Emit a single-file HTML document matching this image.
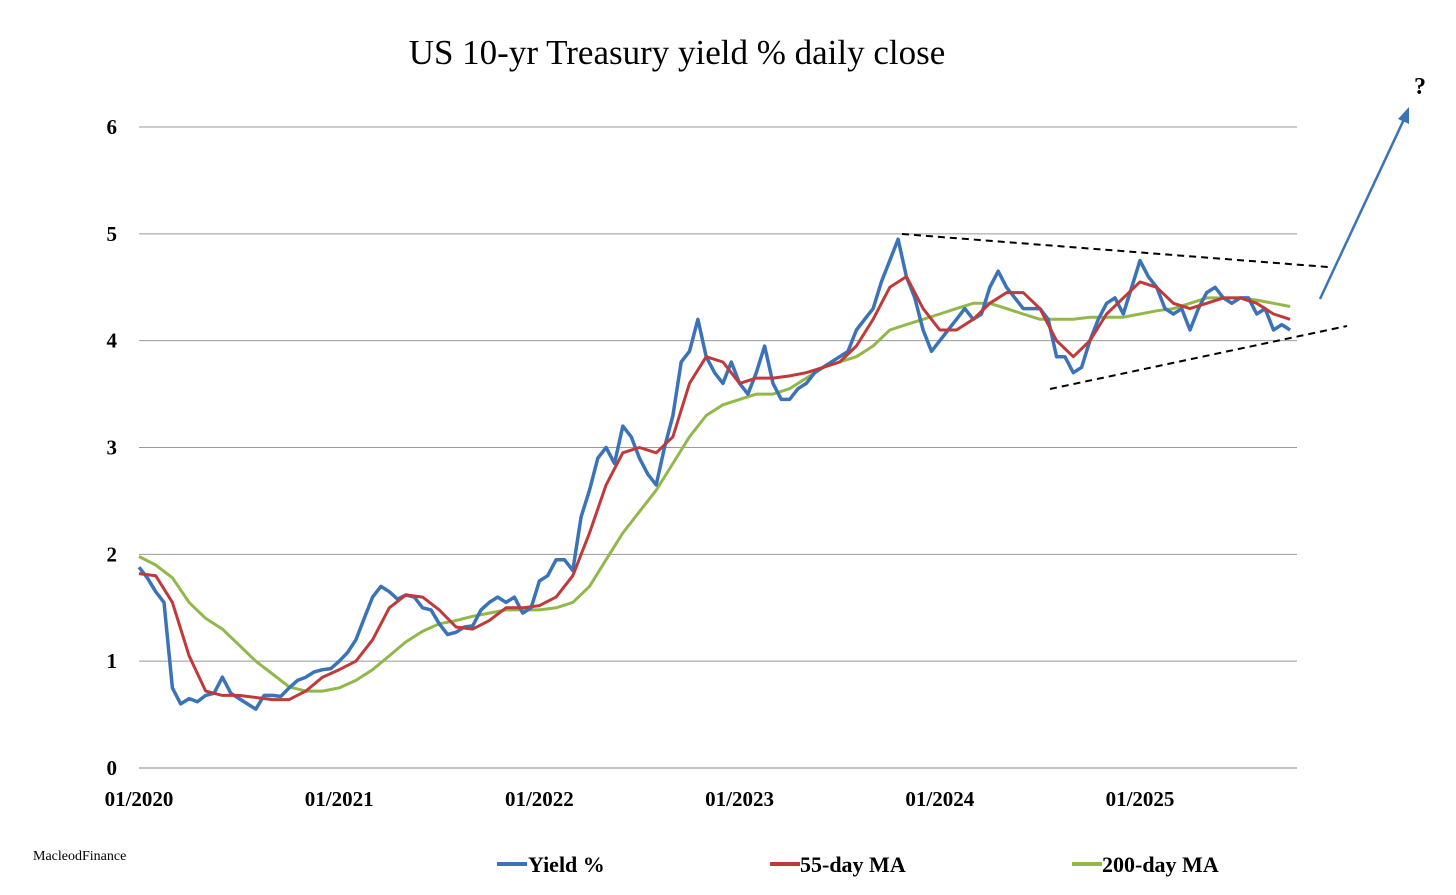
<!DOCTYPE html>
<html><head><meta charset="utf-8"><style>
html,body{margin:0;padding:0;background:#fff;}
svg{display:block;font-family:"Liberation Serif",serif;}
</style></head><body>
<svg id="chart" width="1456" height="895" viewBox="0 0 1456 895" xmlns="http://www.w3.org/2000/svg">
<text x="677" y="64" font-size="35" text-anchor="middle" fill="#000">US 10-yr Treasury yield % daily close</text>
<g id="grid"></g><g id="series"></g>
<line x1="902" y1="234" x2="1328" y2="267" stroke="#000" stroke-width="2" stroke-dasharray="7,5"/>
<line x1="1050" y1="389" x2="1347" y2="326" stroke="#000" stroke-width="2" stroke-dasharray="7,5"/>
<line x1="1320" y1="299" x2="1406" y2="115" stroke="#3b73b9" stroke-width="2.5"/>
<polygon points="1409,107 1409,124 1398,119" fill="#3b73b9"/>
<text x="1420" y="94" font-size="24" font-weight="bold" text-anchor="middle">?</text>
<text x="33" y="860" font-size="14">MacleodFinance</text>
<g>
<line x1="497" y1="864" x2="527" y2="864" stroke="#3b73b9" stroke-width="4"/>
<text x="528" y="872" font-size="22" font-weight="bold">Yield %</text>
<line x1="770" y1="864" x2="800" y2="864" stroke="#c0393b" stroke-width="4"/>
<text x="800" y="872" font-size="22" font-weight="bold">55-day MA</text>
<line x1="1072" y1="864" x2="1102" y2="864" stroke="#92b84a" stroke-width="4"/>
<text x="1102" y="872" font-size="22" font-weight="bold">200-day MA</text>
</g>
</svg>
<script>
const yTicks=[0,1,2,3,4,5,6];
const xTickLabels=["01/2020","01/2021","01/2022","01/2023","01/2024","01/2025"];
const xTickYears=[2020,2021,2022,2023,2024,2025];
// semi-monthly yield, starting Jan 2020
const yieldVals=[1.88,1.78,1.65,1.55,0.75,0.6,0.65,0.62,0.68,0.70,0.85,0.70,0.65,0.60,0.55,0.68,0.68,0.67,0.75,0.82,0.85,0.90,0.92,0.93,
1.0,1.08,1.2,1.4,1.6,1.7,1.65,1.58,1.62,1.60,1.50,1.48,1.35,1.25,1.27,1.32,1.33,1.48,1.55,1.60,1.55,1.60,1.45,1.50,
1.75,1.80,1.95,1.95,1.85,2.35,2.6,2.9,3.0,2.85,3.2,3.1,2.9,2.75,2.65,3.0,3.3,3.8,3.9,4.2,3.85,3.7,3.6,3.8,
3.6,3.5,3.7,3.95,3.6,3.45,3.45,3.55,3.6,3.7,3.75,3.8,3.85,3.9,4.1,4.2,4.3,4.55,4.75,4.95,4.6,4.4,4.1,3.9,
4.0,4.1,4.2,4.3,4.2,4.25,4.5,4.65,4.5,4.4,4.3,4.3,4.3,4.2,3.85,3.85,3.7,3.75,4.0,4.2,4.35,4.4,4.25,4.5,
4.75,4.6,4.5,4.3,4.25,4.3,4.1,4.3,4.45,4.5,4.4,4.35,4.4,4.4,4.25,4.3,4.1,4.15,4.1];
// monthly moving averages, starting Jan 2020
const ma55=[1.82,1.80,1.55,1.05,0.72,0.68,0.68,0.66,0.64,0.64,0.72,0.85,
0.92,1.0,1.2,1.5,1.62,1.6,1.48,1.32,1.30,1.38,1.50,1.50,
1.52,1.60,1.8,2.2,2.65,2.95,3.0,2.95,3.1,3.6,3.85,3.8,
3.6,3.65,3.65,3.67,3.7,3.75,3.8,3.95,4.2,4.5,4.6,4.3,
4.1,4.1,4.2,4.35,4.45,4.45,4.3,4.0,3.85,4.0,4.25,4.4,
4.55,4.5,4.35,4.3,4.35,4.4,4.4,4.35,4.25,4.2];
const ma200=[1.98,1.9,1.78,1.55,1.4,1.3,1.15,1.0,0.88,0.76,0.72,0.72,
0.75,0.82,0.92,1.05,1.18,1.28,1.35,1.38,1.42,1.45,1.48,1.48,
1.48,1.50,1.55,1.7,1.95,2.2,2.4,2.6,2.85,3.1,3.3,3.4,
3.45,3.5,3.5,3.55,3.65,3.75,3.8,3.85,3.95,4.1,4.15,4.2,
4.25,4.3,4.35,4.35,4.3,4.25,4.2,4.2,4.2,4.22,4.22,4.22,
4.25,4.28,4.3,4.35,4.4,4.4,4.4,4.38,4.35,4.32];

const NS="http://www.w3.org/2000/svg";
const x0=139,x1=1297,pxPerYear=200.2;
const yScale=v=>768-v*(768-127)/6;
const xScale=t=>x0+(t-2020)*pxPerYear;
const grid=document.getElementById('grid'),series=document.getElementById('series');
yTicks.forEach(v=>{
 const l=document.createElementNS(NS,'line');
 
 
 l.setAttribute('x1',x0);l.setAttribute('x2',x1);l.setAttribute('y1',yScale(v));l.setAttribute('y2',yScale(v));
 l.setAttribute('stroke',v===0?'#888':'#999');l.setAttribute('stroke-width','1');
 grid.appendChild(l);
 const t=document.createElementNS(NS,'text');
 
 
 t.setAttribute('x',117);t.setAttribute('y',yScale(v)+7);t.setAttribute('text-anchor','end');
 t.setAttribute('font-size','21');t.setAttribute('font-weight','bold');t.textContent=v;
 grid.appendChild(t);
});
xTickYears.forEach((yr,i)=>{
 const t=document.createElementNS(NS,'text');
 
 
 t.setAttribute('x',xScale(yr));t.setAttribute('y',806);t.setAttribute('text-anchor','middle');
 t.setAttribute('font-size','21');t.setAttribute('font-weight','bold');t.textContent=xTickLabels[i];
 grid.appendChild(t);
});
function draw(vals,step,color,name,w){
 const d=vals.map((v,i)=>(i?'L':'M')+xScale(2020+i*step).toFixed(1)+','+yScale(v).toFixed(1)).join(' ');
 const p=document.createElementNS(NS,'path');
 
 
 p.setAttribute('d',d);p.setAttribute('fill','none');p.setAttribute('stroke',color);
 p.setAttribute('stroke-width',w);p.setAttribute('stroke-linejoin','round');
 series.appendChild(p);
}
draw(ma200,1/12,'#92b84a','ma200-line',3);
draw(yieldVals,1/24,'#3b73b9','yield-line',3.5);
draw(ma55,1/12,'#c0393b','ma55-line',3);
</script>
</body></html>
